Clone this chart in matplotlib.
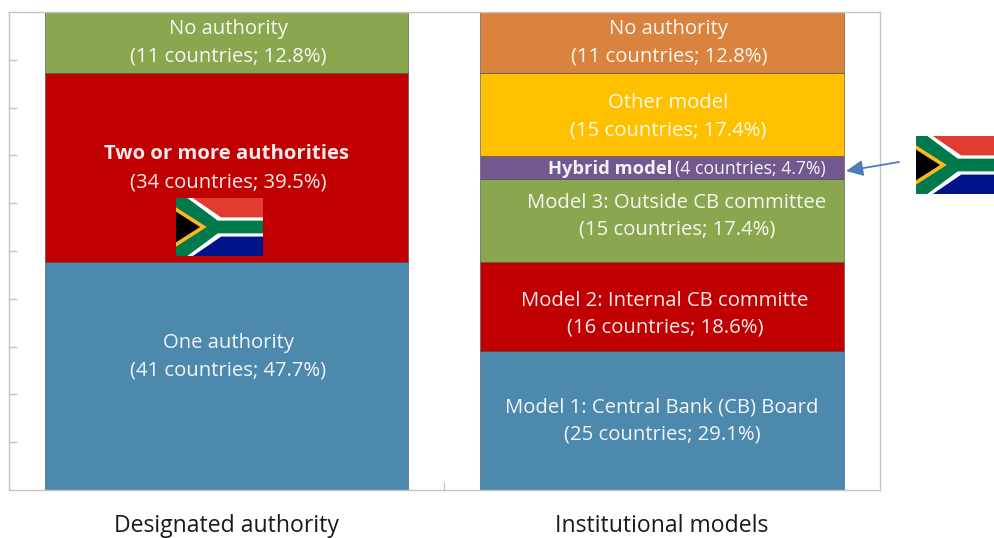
import numpy as np
import matplotlib
matplotlib.use("Agg")
import matplotlib.pyplot as plt
from matplotlib.patches import Polygon, Rectangle

plt.rcParams['font.family'] = ['Open Sans', 'DejaVu Sans']

# data
groups = ["Designated authority", "Institutional models"]
left_names = ["One authority", "Two or more authorities", "No authority"]
left_counts = [41, 34, 11]
left_shares = [47.7, 39.5, 12.8]
right_names = ["Model 1: Central Bank (CB) Board", "Model 2: Internal CB committe",
               "Model 3: Outside CB committee", "Hybrid model", "Other model", "No authority"]
right_counts = [25, 16, 15, 4, 15, 11]
right_shares = [29.1, 18.6, 17.4, 4.7, 17.4, 12.8]

left_colors = ["#4D88AD", "#C00000", "#8AA64F"]
right_colors = ["#4D88AD", "#C00000", "#8AA64F", "#73588F", "#FFC000", "#D9833F"]
# label offsets from the segment centre, pixels (up is positive)
left_off = [(2, 19), (2, -1), (2, 0)]
right_off = [(0, -1), (3, -8), (15, 4), (0, 0), (6, -2), (7, 0)]

W, H = 994, 538
fig = plt.figure(figsize=(W / 100, H / 100), dpi=100)
ax = fig.add_axes([8.8 / W, 1 - 490 / H, 870.8 / W, 478 / H])
ax.set_xlim(-0.5, 1.5)
ax.set_ylim(0, 100)
bar_w = 363 / 435


def label(x, y, off, s, **kw):
    # offsets are in pixels, annotate wants points
    ax.annotate(s, (x, y), xytext=(off[0] * 0.72, off[1] * 0.72), textcoords='offset points',
                ha=kw.pop('ha', 'center'), va='center', color='white', alpha=0.93,
                linespacing=1.47, **kw)


def stack(x, names, counts, shares, colors, offs):
    bottom = 0
    for name, n, s, c, off in zip(names, counts, shares, colors, offs):
        ax.bar(x, s, bar_w, bottom=bottom, color=c, edgecolor='#3a4a55', linewidth=0.4)
        mid = bottom + s / 2
        info = "(%d countries; %.1f%%)" % (n, s)
        if name == "Hybrid model":
            label(x, mid, (10, off[1] - 1), name, fontsize=13.2, fontweight='bold', ha='right')
            label(x, mid, (13, off[1] - 1), info, fontsize=12.7, ha='left')
        elif name.startswith("Two"):
            label(x, mid, (off[0] - 2, off[1] + 15), name, fontsize=14.6, fontweight='bold')
            label(x, mid, (off[0], off[1] - 14), info, fontsize=14.6)
        else:
            label(x, mid, off, name + "\n" + info, fontsize=14.6)
        bottom += s


stack(0, left_names, left_counts, left_shares, left_colors, left_off)
stack(1, right_names, right_counts, right_shares, right_colors, right_off)

ax.set_xticks([0, 1])
ax.set_xticklabels(groups, fontsize=16.6, color='#1a1a1a')
ax.tick_params(axis='x', which='major', length=0, pad=17)
ax.set_xticks([0.5], minor=True)
ax.tick_params(axis='x', which='minor', direction='in', length=6, color='#c4c4c4', width=1)
ax.set_yticks(np.arange(10, 100, 10))
ax.set_yticklabels([])
ax.tick_params(axis='y', direction='in', length=6, color='#c4c4c4', width=1)
for sp in ax.spines.values():
    sp.set_color('#c4c4c4')
    sp.set_linewidth(1.0)


def draw_flag(x0, y0, w=87, h=58):
    a = fig.add_axes([x0 / W, 1 - (y0 + h) / H, w / W, h / H])
    a.set_xlim(0, 3)
    a.set_ylim(0, 2)
    a.axis('off')
    a.add_patch(Rectangle((0, 1), 3, 1, color='#E03C31', lw=0))
    a.add_patch(Rectangle((0, 0), 3, 1, color='#001489', lw=0))
    a.add_patch(Polygon([(0, 2), (0.58, 2), (1.56, 1.33), (3, 1.33), (3, 0.67), (1.56, 0.67), (0.58, 0), (0, 0)],
                        color='white', lw=0))
    a.add_patch(Polygon([(0, 2), (0.39, 2), (1.44, 1.22), (3, 1.22), (3, 0.78), (1.44, 0.78), (0.39, 0), (0, 0)],
                        color='#007A4D', lw=0))
    a.add_patch(Polygon([(0, 1.68), (1.06, 1), (0, 0.32)], color='#FFB81C', lw=0))
    a.add_patch(Polygon([(0, 1.53), (0.83, 1), (0, 0.47)], color='black', lw=0))


draw_flag(176, 198)
draw_flag(916, 136)

# arrow from the second flag to the hybrid segment
ax.annotate("", xy=(846 / W, 1 - 171 / H), xytext=(899 / W, 1 - 162 / H), xycoords='figure fraction',
            textcoords='figure fraction', annotation_clip=False,
            arrowprops=dict(arrowstyle='-|>,head_length=0.6,head_width=0.28', color='#4A7EBB', lw=1.3,
                            mutation_scale=17, shrinkA=0, shrinkB=0))

fig.savefig("out.png", dpi=100)
